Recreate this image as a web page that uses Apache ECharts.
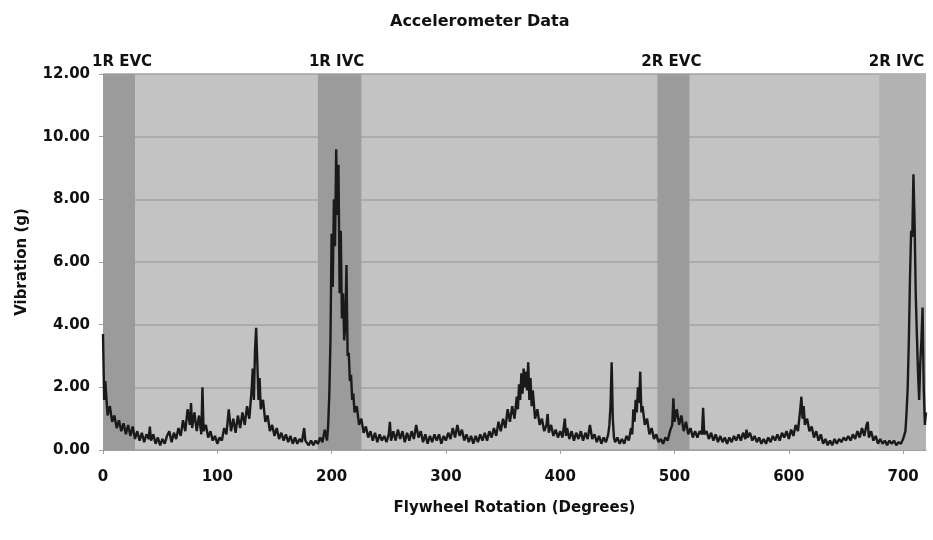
<!DOCTYPE html>
<html>
<head>
<meta charset="utf-8">
<script src="https://cdn.jsdelivr.net/npm/echarts@6/dist/echarts.min.js"></script>
<style>html,body{margin:0;padding:0;background:#fff;}#c{width:933px;height:540px;}</style>
</head>
<body>
<div id="c"></div>
<script>
var chartTitle = 'Accelerometer Data';
var xName = 'Flywheel Rotation (Degrees)';
var yName = 'Vibration (g)';
var bandNames = ['1R EVC', '1R IVC', '2R EVC', '2R IVC'];
var bandStart = [0, 188, 485, 679];
var bandEnd = [28, 226, 513, 720];
var deg = [
0,1,2,4,6,8,10,12,14,16,18,20,22,24,26,28,30,32,34,36,38,40,41,42,44,46,48,50,52,54,56,58,60,62,64,66,68,70,72,74,76,77,78,80,82,84,86,87,88,90,92,94,96,98,
100,102,104,106,108,110,112,114,116,118,120,122,124,126,128,130,131,132,133,134,135,136,137,138,140,142,144,146,148,150,152,154,156,158,160,162,164,166,168,170,172,174,176,177,178,180,182,184,186,188,190,192,194,196,197,198,199,
200,201,202,203,204,205,206,207,208,209,210,211,212,213,214,215,216,217,218,219,220,222,224,226,228,230,232,234,236,238,240,242,244,246,248,250,251,252,254,256,258,260,262,264,266,268,270,272,274,276,278,280,282,284,286,288,290,292,294,296,298,
300,302,304,306,308,310,312,314,316,318,320,322,324,326,328,330,332,334,336,338,340,342,344,346,348,350,352,354,356,358,360,362,363,364,365,366,367,368,369,370,371,372,373,374,375,376,378,380,382,384,386,388,389,390,392,394,396,398,
400,402,404,405,406,408,410,412,414,416,418,420,422,424,426,428,430,432,434,436,438,440,442,443,444,445,446,447,448,450,452,454,456,458,460,462,463,464,465,466,467,468,469,470,471,472,474,476,478,480,482,484,486,488,490,492,494,496,498,499,
500,502,504,506,508,510,512,514,516,518,520,522,524,525,526,528,530,532,534,536,538,540,542,544,546,548,550,552,554,556,558,560,562,563,564,566,568,570,572,574,576,578,580,582,584,586,588,590,592,594,596,598,
600,602,604,606,608,610,611,612,613,614,616,618,620,622,624,626,628,630,632,634,636,638,640,642,644,646,648,650,652,654,656,658,660,662,664,666,668,669,670,672,674,676,678,680,682,684,686,688,690,692,694,696,698,
700,702,703,704,705,706,707,708,709,710,711,712,713,714,715,716,717,718,719,720
];
var vib = [
3.7,1.6,2.2,1.1,1.4,0.9,1.1,0.7,0.95,0.6,0.85,0.5,0.8,0.45,0.75,0.35,0.6,0.3,0.55,0.25,0.5,0.35,0.75,0.3,0.5,0.2,0.4,0.15,0.35,0.2,0.45,0.6,0.25,0.55,0.35,0.7,0.45,0.95,0.6,1.3,0.8,1.5,0.7,1.2,0.6,1.1,0.5,2.0,0.6,0.8,0.4,0.6,0.3,0.45,
0.2,0.4,0.3,0.7,0.5,1.3,0.6,1.0,0.55,1.1,0.7,1.2,0.8,1.4,1.0,1.9,2.6,1.6,3.2,3.9,2.8,1.6,2.3,1.3,1.6,0.9,1.1,0.6,0.8,0.45,0.7,0.35,0.55,0.3,0.5,0.25,0.45,0.2,0.4,0.2,0.35,0.25,0.7,0.3,0.35,0.15,0.3,0.15,0.3,0.2,0.4,0.25,0.65,0.3,0.8,1.8,3.5,
6.9,5.2,8.0,6.5,9.6,7.5,9.1,5.0,7.0,4.2,5.0,3.5,4.0,5.9,3.0,3.1,2.2,2.4,1.6,1.8,1.2,1.4,0.8,1.0,0.55,0.75,0.4,0.6,0.3,0.55,0.25,0.5,0.3,0.45,0.25,0.5,0.9,0.3,0.6,0.3,0.65,0.35,0.6,0.25,0.55,0.3,0.6,0.35,0.8,0.4,0.6,0.25,0.5,0.2,0.45,0.25,0.5,0.3,0.5,0.2,0.45,
0.3,0.55,0.35,0.7,0.4,0.8,0.45,0.65,0.3,0.5,0.25,0.45,0.2,0.45,0.25,0.5,0.3,0.55,0.3,0.6,0.4,0.7,0.45,0.9,0.6,1.0,0.7,1.3,0.9,1.4,1.0,1.7,1.3,2.1,1.6,2.45,1.8,2.6,2.0,2.5,1.9,2.8,1.6,2.3,1.4,1.9,1.0,1.3,0.8,1.0,0.6,0.8,1.15,0.55,0.8,0.45,0.65,0.4,
0.6,0.4,1.0,0.45,0.7,0.35,0.6,0.3,0.55,0.35,0.6,0.3,0.55,0.35,0.8,0.35,0.5,0.25,0.45,0.2,0.4,0.25,0.5,0.8,1.4,2.8,1.0,0.4,0.25,0.4,0.2,0.35,0.2,0.45,0.3,0.7,0.5,1.3,0.9,1.6,1.2,2.0,1.5,2.5,1.2,1.4,0.8,1.0,0.5,0.7,0.35,0.5,0.25,0.35,0.2,0.4,0.3,0.6,0.8,1.65,
0.9,1.3,0.8,1.1,0.6,0.9,0.5,0.7,0.4,0.6,0.4,0.6,0.5,1.35,0.5,0.6,0.35,0.55,0.3,0.5,0.25,0.45,0.25,0.4,0.2,0.4,0.25,0.45,0.3,0.5,0.3,0.55,0.35,0.65,0.4,0.55,0.3,0.45,0.25,0.4,0.2,0.35,0.2,0.4,0.25,0.45,0.3,0.5,0.3,0.55,0.4,0.6,
0.35,0.65,0.45,0.8,0.6,1.3,1.7,1.0,1.4,0.8,1.0,0.6,0.75,0.4,0.6,0.3,0.5,0.2,0.35,0.15,0.3,0.15,0.35,0.2,0.35,0.25,0.4,0.3,0.45,0.3,0.5,0.35,0.6,0.4,0.7,0.45,0.8,0.9,0.4,0.6,0.3,0.45,0.2,0.35,0.2,0.3,0.15,0.3,0.2,0.3,0.15,0.25,0.2,
0.35,0.6,1.2,2.0,3.5,5.5,7.0,6.8,8.8,7.3,5.0,3.7,2.5,1.6,2.8,3.5,4.55,2.0,0.8,1.2
];
var yTicks = ['0.00','2.00','4.00','6.00','8.00','10.00','12.00'];

var FONT = 'DejaVu Sans, sans-serif';
var points = deg.map(function (d, i) { return [d, vib[i]]; });
var areaColors = ['#9b9b9b', '#9b9b9b', '#9b9b9b', '#b2b2b2'];
var labelShift = [3, -3, -2, -6];
var areas = bandNames.map(function (n, i) {
  return [{ name: n, xAxis: bandStart[i], itemStyle: { color: areaColors[i] }, label: { offset: [labelShift[i], 0] } }, { xAxis: bandEnd[i] }];
});

var chart = echarts.init(document.getElementById('c'), null, { renderer: 'canvas' });
chart.setOption({
  backgroundColor: '#ffffff',
  animation: false,
  title: {
    text: chartTitle, left: 385, top: 9,
    textStyle: { fontFamily: FONT, fontSize: 16, fontWeight: 'bold', color: '#111' }
  },
  grid: { left: 103, right: 7, top: 74, bottom: 90, show: true, backgroundColor: '#c3c3c3', borderWidth: 0 },
  xAxis: {
    type: 'value', min: 0, max: 720, interval: 100,
    name: xName, nameLocation: 'middle', nameGap: 51,
    nameTextStyle: { fontFamily: FONT, fontSize: 15, fontWeight: 'bold', color: '#111' },
    axisLine: { show: true, lineStyle: { color: '#a0a0a0', width: 1 } },
    axisTick: { show: true, length: 4, lineStyle: { color: '#a0a0a0' } },
    axisLabel: { showMaxLabel: false, margin: 20, fontFamily: FONT, fontSize: 15, fontWeight: 'bold', color: '#111' },
    splitLine: { show: false }
  },
  yAxis: {
    type: 'value', min: 0, max: 12, interval: 2,
    name: yName, nameLocation: 'middle', nameGap: 73, nameRotate: 90,
    nameTextStyle: { fontFamily: FONT, fontSize: 15, fontWeight: 'bold', color: '#111' },
    axisLine: { show: false },
    axisTick: { show: true, length: 4, lineStyle: { color: '#a0a0a0' } },
    axisLabel: {
      margin: 13, fontFamily: FONT, fontSize: 15, fontWeight: 'bold', color: '#111',
      formatter: function (v) { return yTicks[Math.round(v / 2)]; }
    },
    splitLine: { show: true, lineStyle: { color: '#a3a3a3', width: 1.5 } }
  },
  series: [{
    type: 'line', data: points, showSymbol: false, symbol: 'none',
    lineStyle: { color: '#1a1a1a', width: 2.4 },
    z: 3,
    markArea: {
      silent: true,
      label: { show: true, position: 'top', distance: 4, fontFamily: FONT, fontSize: 15, fontWeight: 'bold', color: '#111' },
      data: areas
    }
  }]
});
</script>
</body>
</html>
